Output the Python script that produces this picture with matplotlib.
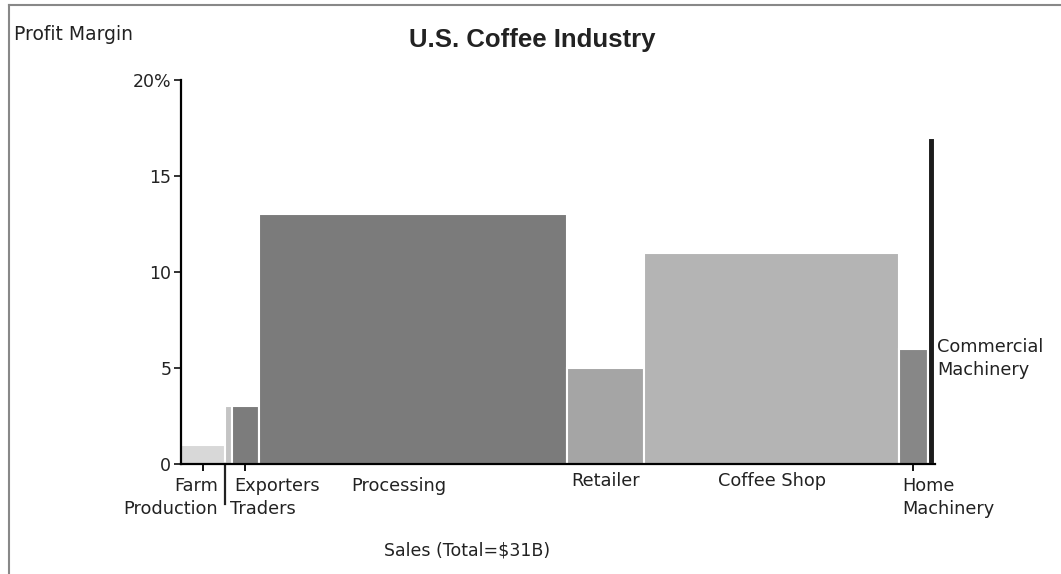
import matplotlib.pyplot as plt
import matplotlib.transforms as mtransforms
from matplotlib.lines import Line2D
import numpy as np

plt.rcParams['font.family'] = ['DejaVu Sans']

# sales in $B (bar widths) and profit margin in % (bar heights)
segments = ['Farm Production', 'Traders', 'Exporters', 'Processing', 'Retailer',
            'Coffee Shop', 'Home Machinery', 'Commercial Machinery']
sales = [1.81, 0.29, 1.11, 12.7, 3.17, 10.47, 1.2, 0.29]
margins = [1, 3, 3, 13, 5, 11, 6, 17]
colors = ['#d8d8d8', '#c4c4c4', '#7c7c7c', '#7b7b7b', '#a5a5a5',
          '#b4b4b4', '#878787', '#1c1c1c']
y_ticks = [0, 5, 10, 15, 20]

W, H = 1061, 574
fig = plt.figure(figsize=(W / 100, H / 100), dpi=100)
ax = fig.add_axes([181 / W, (H - 464) / H, (935 - 181) / W, 384 / H])

lefts = np.concatenate([[0], np.cumsum(sales)[:-1]])
total = sum(sales)
ax.bar(lefts, margins, width=sales, align='edge', color=colors,
       edgecolor='white', linewidth=1.5)

ax.set_xlim(0, total)
ax.set_ylim(0, 20)
ax.spines[['top', 'right']].set_visible(False)
ax.spines[['left', 'bottom']].set_linewidth(1.6)
ax.set_yticks(y_ticks)
ax.set_yticklabels([str(v) for v in y_ticks[:-1]] + ['20%'])
ax.tick_params(axis='y', length=5, width=1.3, labelsize=12.5, colors='#222222', pad=2)

centers = lefts + np.array(sales) / 2
ax.set_xticks([centers[0], centers[2], centers[6]])
ax.set_xticklabels([])
ax.tick_params(axis='x', length=5, width=1.3, direction='out')

# divider between farm production and traders/exporters
ax.add_line(Line2D([lefts[1], lefts[1]], [0, -2.1], color='#222222', lw=1.6, clip_on=False))

trans = mtransforms.blended_transform_factory(ax.transData, ax.transAxes)
fs = 12.8
lab = dict(fontsize=fs, color='#222222', transform=trans)
ax.text(lefts[1] - 0.3, -0.057, 'Farm', ha='right', va='center', **lab)
ax.text(lefts[1] - 0.3, -0.117, 'Production', ha='right', va='center', **lab)
ax.text(lefts[2] + 0.1, -0.057, 'Exporters', ha='left', va='center', **lab)
ax.text(lefts[1] + 0.2, -0.117, 'Traders', ha='left', va='center', **lab)
ax.text(centers[3] - 0.6, -0.057, 'Processing', ha='center', va='center', **lab)
ax.text(centers[4], -0.044, 'Retailer', ha='center', va='center', **lab)
ax.text(centers[5], -0.044, 'Coffee Shop', ha='center', va='center', **lab)
ax.text(lefts[6] + 0.15, -0.057, 'Home', ha='left', va='center', **lab)
ax.text(lefts[6] + 0.15, -0.117, 'Machinery', ha='left', va='center', **lab)
ax.text(total + 0.1, 6.1, 'Commercial', ha='left', va='center',
        fontsize=fs, color='#222222')
ax.text(total + 0.1, 4.9, 'Machinery', ha='left', va='center',
        fontsize=fs, color='#222222')

fig.text(14 / W, 1 - 35 / H, 'Profit Margin', fontsize=13.5, color='#222222',
         ha='left', va='center')
fig.text(532 / W, 1 - 40 / H, 'U.S. Coffee Industry', fontsize=18.5,
         fontweight='bold', family='Liberation Sans', color='#222222',
         ha='center', va='center')
fig.text(467 / W, 1 - 551 / H, 'Sales (Total=$31B)', fontsize=12.5, color='#222222',
         ha='center', va='center')

# screenshot frame
fig.add_artist(Line2D([9 / W, 1], [1 - 5 / H, 1 - 5 / H], color='#888888', lw=1.5,
                      transform=fig.transFigure))
fig.add_artist(Line2D([9 / W, 9 / W], [0, 1 - 5 / H], color='#888888', lw=1.5,
                      transform=fig.transFigure))

fig.savefig('out.png', dpi=100)
